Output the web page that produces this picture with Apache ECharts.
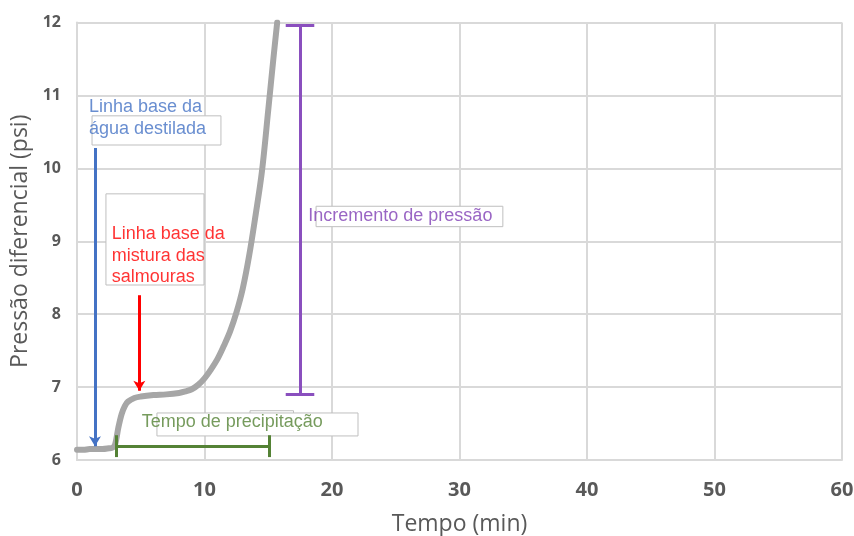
<!DOCTYPE html>
<html>
<head>
<meta charset="utf-8">
<script src="https://cdn.jsdelivr.net/npm/echarts@6/dist/echarts.min.js"></script>
<style>html,body{margin:0;padding:0;background:#fff;}#c{width:854px;height:536px;}</style>
</head>
<body>
<div id="c"></div>
<script>
// Curve data: [time (min), differential pressure (psi)]
const curveTime = [0, 0.5, 1, 1.5, 2, 2.5, 2.8, 3, 3.25, 3.5, 3.75, 4, 4.5, 5, 6, 7, 8, 8.5, 9, 9.5, 10, 10.5, 11, 11.5, 12, 12.5, 13, 13.5, 14, 14.5, 15, 15.4, 15.7];
const curvePressure = [6.14, 6.14, 6.15, 6.15, 6.15, 6.16, 6.17, 6.22, 6.45, 6.63, 6.74, 6.80, 6.85, 6.87, 6.89, 6.90, 6.92, 6.94, 6.97, 7.03, 7.12, 7.24, 7.38, 7.56, 7.76, 8.02, 8.35, 8.80, 9.35, 9.95, 10.80, 11.50, 12.0];

const xTicks = [0, 10, 20, 30, 40, 50, 60];
const yTicks = [6, 7, 8, 9, 10, 11, 12];

// Annotation texts
const textBlue = 'Linha base da\nágua destilada';
const textRed = 'Linha base da\nmistura das\nsalmouras';
const textPurple = 'Incremento de pressão';
const textGreen = 'Tempo de precipitação';

// Annotation anchors (data coordinates)
const anchorBlue = [0.94, 10.985];
const anchorRed = [2.72, 9.246];
const anchorPurple = [18.14, 9.497];
const anchorGreen = [5.07, 6.664];

// Arrows: [x, yStart, yEnd]
const arrowBlue = [1.41, 10.28, 6.19];
const arrowRed = [4.89, 8.26, 6.95];

// Pressure increment bar: [x, yLow, yHigh, capHalfWidth]
const incBar = [17.49, 6.905, 11.96, 1.12];
// Precipitation time bar: [xStart, xEnd, y, capLow, capHigh]
const timeBar = [3.06, 15.06, 6.19, 6.04, 6.34];

// Text boxes: [x1, y1, x2, y2]
const boxBlue = [1.18, 10.72, 11.29, 10.32];
const boxRed = [2.27, 9.65, 9.96, 8.40];
const boxPurple = [18.75, 9.48, 33.4, 9.20];
const boxExtra = [13.57, 6.676, 16.98, 6.40];
const boxGreen = [6.27, 6.645, 22.04, 6.33];

const curveData = curveTime.map((t, i) => [t, curvePressure[i]]);

function seg(a, b) { return [{ coord: a }, { coord: b }]; }
function box(b) { return [{ coord: [b[0], b[1]] }, { coord: [b[2], b[3]] }]; }

const chart = echarts.init(document.getElementById('c'), null, { renderer: 'canvas' });

const labelFont = 'Liberation Sans, Arial, sans-serif';

function textSeries(anchor, text, color) {
  return {
    type: 'scatter',
    data: [anchor],
    symbolSize: 0,
    z: 10,
    silent: true,
    itemStyle: { color: color },
    label: {
      show: true,
      formatter: text,
      position: [0, 0],
      align: 'left',
      verticalAlign: 'top',
      color: color,
      textBorderWidth: 0,
      textBorderColor: 'transparent',
      fontFamily: labelFont,
      fontSize: 18,
      lineHeight: 21.5
    }
  };
}

const boxStyle = { color: '#ffffff', borderColor: '#bfbfbf', borderWidth: 1 };

chart.setOption({
  animation: false,
  backgroundColor: '#ffffff',
  grid: { left: 77, right: 12, top: 22.5, bottom: 76, containLabel: false, outerBoundsMode: 'none' },
  xAxis: {
    type: 'value',
    min: 0, max: 60, interval: 10,
    name: 'Tempo (min)',
    nameLocation: 'middle',
    nameGap: 53,
    nameTextStyle: { fontFamily: 'Open Sans', fontSize: 23, color: '#595959' },
    axisLine: { show: true, lineStyle: { color: '#d9d9d9', width: 2 } },
    axisTick: { show: false },
    axisLabel: {
      fontFamily: 'Open Sans', fontWeight: 'bold', fontSize: 20, color: '#595959', margin: 20,
      formatter: v => xTicks.includes(v) ? String(v) : ''
    },
    splitLine: { show: true, lineStyle: { color: '#d9d9d9', width: 2 } }
  },
  yAxis: {
    type: 'value',
    min: 6, max: 12, interval: 1,
    name: 'Pressão diferencial (psi)',
    nameLocation: 'middle',
    nameGap: 35,
    nameTextStyle: { fontFamily: 'Open Sans', fontSize: 23, color: '#595959' },
    axisLine: { show: true, lineStyle: { color: '#d9d9d9', width: 2 } },
    axisTick: { show: false },
    axisLabel: {
      fontFamily: 'Open Sans', fontWeight: 'bold', fontSize: 16, color: '#595959', margin: 16,
      formatter: v => yTicks.includes(v) ? String(v) : ''
    },
    splitLine: { show: true, lineStyle: { color: '#d9d9d9', width: 2 } }
  },
  series: [
    {
      type: 'line',
      data: curveData,
      smooth: 0.35,
      showSymbol: false,
      z: 3,
      lineStyle: { color: '#a6a6a6', width: 6, cap: 'round' },
      silent: true
    },
    {
      type: 'line',
      data: [],
      z: 4,
      silent: true,
      markArea: {
        silent: true,
        itemStyle: boxStyle,
        data: [box(boxBlue), box(boxRed), box(boxPurple), box(boxExtra), box(boxGreen)]
      }
    },
    {
      type: 'line', data: [], z: 5, silent: true,
      markLine: {
        silent: true, symbol: ['none', 'arrow'], symbolSize: [9, 10], label: { show: false },
        lineStyle: { color: '#4472c4', width: 3, type: 'solid' },
        data: [seg([arrowBlue[0], arrowBlue[1]], [arrowBlue[0], arrowBlue[2]])]
      }
    },
    {
      type: 'line', data: [], z: 5, silent: true,
      markLine: {
        silent: true, symbol: ['none', 'arrow'], symbolSize: [9, 10], label: { show: false },
        lineStyle: { color: '#ff0000', width: 3, type: 'solid' },
        data: [seg([arrowRed[0], arrowRed[1]], [arrowRed[0], arrowRed[2]])]
      }
    },
    {
      type: 'line', data: [], z: 5, silent: true,
      markLine: {
        silent: true, symbol: ['none', 'none'], label: { show: false },
        lineStyle: { color: '#8a4fbe', width: 3, type: 'solid' },
        data: [
          seg([incBar[0], incBar[1]], [incBar[0], incBar[2]]),
          seg([incBar[0] - incBar[3], incBar[2]], [incBar[0] + incBar[3], incBar[2]]),
          seg([incBar[0] - incBar[3], incBar[1]], [incBar[0] + incBar[3], incBar[1]])
        ]
      }
    },
    {
      type: 'line', data: [], z: 5, silent: true,
      markLine: {
        silent: true, symbol: ['none', 'none'], label: { show: false },
        lineStyle: { color: '#548235', width: 3, type: 'solid' },
        data: [
          seg([timeBar[0], timeBar[2]], [timeBar[1], timeBar[2]]),
          seg([timeBar[0], timeBar[3]], [timeBar[0], timeBar[4]]),
          seg([timeBar[1], timeBar[3]], [timeBar[1], timeBar[4]])
        ]
      }
    },
    textSeries(anchorBlue, textBlue, '#4472c4'),
    textSeries(anchorRed, textRed, '#ff0000'),
    textSeries(anchorPurple, textPurple, '#7f3fb5'),
    textSeries(anchorGreen, textGreen, '#548235')
  ]
});
</script>
</body>
</html>
